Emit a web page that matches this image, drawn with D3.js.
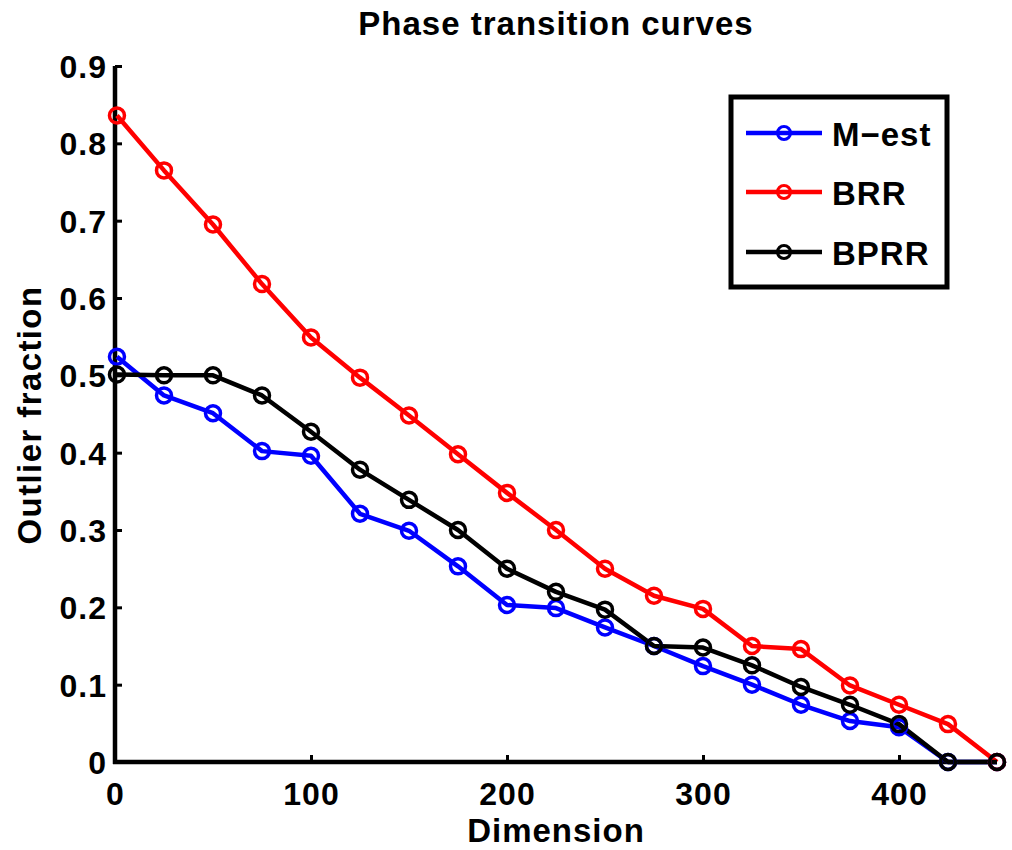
<!DOCTYPE html>
<html>
<head>
<meta charset="utf-8">
<script src="https://cdn.jsdelivr.net/npm/d3@7"></script>
<style>
  body { margin: 0; background: #fff; }
  text { font-family: "Liberation Sans", Arial, sans-serif; font-weight: bold; }
</style>
</head>
<body>
<div id="chart"></div>
<script>
// Data
const dims = [1, 25, 50, 75, 100, 125, 150, 175, 200, 225, 250, 275, 300, 325, 350, 375, 400, 425, 450];
const mest = [0.524, 0.474, 0.451, 0.402, 0.396, 0.321, 0.299, 0.253, 0.203, 0.199, 0.174, 0.150, 0.124, 0.100, 0.074, 0.053, 0.045, 0, 0];
const brr  = [0.836, 0.765, 0.695, 0.618, 0.549, 0.497, 0.448, 0.398, 0.348, 0.300, 0.250, 0.215, 0.198, 0.150, 0.146, 0.099, 0.074, 0.049, 0];
const bprr = [0.501, 0.500, 0.500, 0.474, 0.427, 0.378, 0.339, 0.300, 0.250, 0.220, 0.197, 0.150, 0.148, 0.125, 0.097, 0.074, 0.049, 0, 0];
const seriesNames = ["M\u2212est", "BRR", "BPRR"];
const seriesColors = ["#0000ff", "#ff0000", "#000000"];
const xTicks = [0, 100, 200, 300, 400];
const yTicks = [0, 0.1, 0.2, 0.3, 0.4, 0.5, 0.6, 0.7, 0.8, 0.9];

const width = 1012, height = 850;
const plotLeft = 115, plotRight = 997, plotTop = 66, plotBottom = 762;

const svg = d3.select("#chart").append("svg")
    .attr("width", width)
    .attr("height", height);

const x = d3.scaleLinear().domain([0, 450]).range([plotLeft, plotRight]);
const y = d3.scaleLinear().domain([0, 0.9]).range([plotBottom, plotTop]);

// Axes (ticks inside, like matlab)
const xAxis = svg.append("g")
    .attr("transform", `translate(0, ${plotBottom})`)
    .call(d3.axisBottom(x).tickValues(xTicks).tickSizeInner(-7).tickSizeOuter(0).tickPadding(20).tickFormat(d3.format("d")));
const yAxis = svg.append("g")
    .attr("transform", `translate(${plotLeft}, 0)`)
    .call(d3.axisLeft(y).tickValues(yTicks).tickSizeInner(-7).tickSizeOuter(0).tickPadding(8).tickFormat(d => d === 0 ? "0" : d3.format(".1f")(d)));

[xAxis, yAxis].forEach(g => {
    g.select(".domain").attr("stroke", "#000").attr("stroke-width", 4.5);
    g.selectAll(".tick line").attr("stroke", "#000").attr("stroke-width", 3);
    g.selectAll(".tick text").attr("fill", "#000")
        .style("font-size", "32px").style("font-weight", "bold").style("letter-spacing", "1px");
});
xAxis.select(".domain").attr("d", `M${plotLeft - 2},0H${plotRight}`);
yAxis.select(".domain").attr("d", `M0,${plotTop}V${plotBottom + 2}`);
yAxis.selectAll(".tick text").attr("dy", "0.36em");
xAxis.selectAll(".tick text").attr("dy", "0.71em");

// Series
const seriesData = [mest, brr, bprr];
const line = d3.line().x((d, i) => x(dims[i])).y(d => y(d));

seriesData.forEach((vals, k) => {
    svg.append("path")
        .datum(vals)
        .attr("fill", "none")
        .attr("stroke", seriesColors[k])
        .attr("stroke-width", 4.5)
        .attr("stroke-linejoin", "round")
        .attr("d", line);
});
seriesData.forEach((vals, k) => {
    svg.append("g").selectAll("circle")
        .data(vals)
        .enter()
        .append("circle")
        .attr("cx", (d, i) => x(dims[i]))
        .attr("cy", d => y(d))
        .attr("r", 7.5)
        .attr("fill", "none")
        .attr("stroke", seriesColors[k])
        .attr("stroke-width", 3.5);
});

// Title and labels
svg.append("text")
    .attr("x", 556).attr("y", 35)
    .attr("text-anchor", "middle")
    .style("font-size", "33px")
    .style("letter-spacing", "1px")
    .text("Phase transition curves");

svg.append("text")
    .attr("x", 556).attr("y", 842)
    .attr("text-anchor", "middle")
    .style("font-size", "33px")
    .style("letter-spacing", "1px")
    .text("Dimension");

svg.append("text")
    .attr("transform", `translate(41, 415) rotate(-90)`)
    .attr("text-anchor", "middle")
    .style("font-size", "33px")
    .style("letter-spacing", "1.4px")
    .text("Outlier fraction");

// Legend
const legend = svg.append("g");
legend.append("rect")
    .attr("x", 731).attr("y", 97)
    .attr("width", 216).attr("height", 190)
    .attr("fill", "#fff")
    .attr("stroke", "#000")
    .attr("stroke-width", 5);
const legendY = [133, 192, 252];
seriesNames.forEach((name, k) => {
    legend.append("line")
        .attr("x1", 746).attr("x2", 822)
        .attr("y1", legendY[k]).attr("y2", legendY[k])
        .attr("stroke", seriesColors[k])
        .attr("stroke-width", 4.5);
    legend.append("circle")
        .attr("cx", 784).attr("cy", legendY[k])
        .attr("r", 6.5)
        .attr("fill", "none")
        .attr("stroke", seriesColors[k])
        .attr("stroke-width", 3);
    legend.append("text")
        .attr("x", 832).attr("y", legendY[k])
        .attr("dy", "0.4em")
        .style("font-size", "33px")
        .style("letter-spacing", "1px")
        .text(name);
});
</script>
</body>
</html>
